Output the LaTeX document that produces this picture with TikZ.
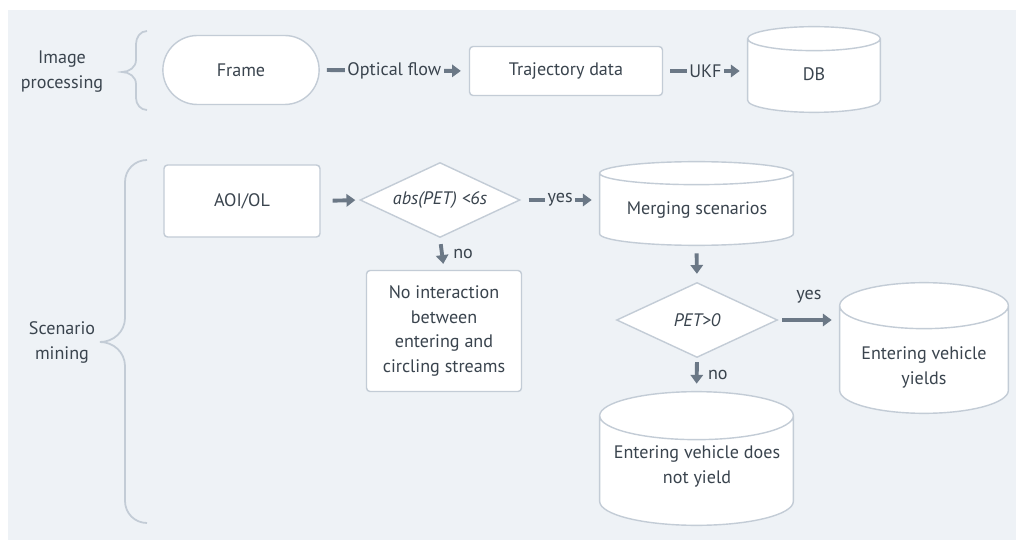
\documentclass[tikz,border=0pt]{standalone}
\usepackage{fontspec}
\setmainfont{PT Sans}
\usetikzlibrary{shapes.geometric,shapes.misc,arrows.meta,positioning,calc}
\definecolor{bgGray}{HTML}{EEF2F6}
\definecolor{lineGray}{HTML}{C3CCD6}
\definecolor{txtGray}{HTML}{3A444E}
\definecolor{arrGray}{HTML}{6B7886}
\pgfdeclarelayer{bgfill}
\pgfdeclarelayer{back}
\pgfsetlayers{bgfill,back,main}

% database drum round the named node, #2 = radius of the end ellipse
\newcommand{\drumpath}[2]{%
  \path[draw=lineGray, fill=white, line width=0.8pt]
    let \p1=(#1.north west), \p2=(#1.south east), \n1={(\x2-\x1)/2} in
    (\x1,{\y1-#2}) -- (\x1,{\y2+#2})
    arc[start angle=180, end angle=360, x radius=\n1, y radius=#2]
    -- (\x2,{\y1-#2})
    arc[start angle=0, end angle=180, x radius=\n1, y radius=#2] -- cycle
    (\x1,{\y1-#2})
    arc[start angle=180, end angle=360, x radius=\n1, y radius=#2];
}

\begin{document}
\begin{tikzpicture}[x=0.02cm, y=-0.02cm,
    every node/.style={font=\fontsize{10.3}{14.2}\selectfont, text=txtGray},
    box/.style={draw=lineGray, fill=white, line width=0.8pt, rounded corners=2pt,
                align=center, inner sep=2pt},
    dbase/.style={rectangle, inner sep=0pt},
    decision/.style={diamond, aspect=2.1, draw=lineGray, fill=white, line width=0.8pt,
                     inner sep=0pt, font=\fontsize{10.3}{14.2}\selectfont\itshape},
    flow/.style={-{Triangle[length=5pt,width=7pt]}, draw=arrGray, line width=2.2pt},
    lbl/.style={fill=bgGray, inner sep=1.5pt},
    curly/.style={draw=lineGray, line width=1pt},
  ]
  \useasboundingbox (0,0) rectangle (1016,540);
  \begin{pgfonlayer}{bgfill}
    \fill[bgGray] (8,10) rectangle (1016,540);
  \end{pgfonlayer}

  % Image processing row
  \node[align=center] (imgproc) at (62,72) {Image\\processing};
  \draw[curly] (147,31) to[out=180,in=90] (136,44) -- (136,60)
    to[out=-90,in=0] (122,72) to[out=0,in=90] (136,84) -- (136,98)
    to[out=-90,in=180] (147,110);

  \node[rounded rectangle, draw=lineGray, fill=white, line width=0.8pt,
        minimum width=3.36cm, minimum height=1.38cm] (frame) at (241,70) {Frame};
  \node[box, minimum width=3.86cm, minimum height=0.98cm] (traj) at (566,71)
    {Trajectory data};
  \node[dbase, minimum width=2.64cm, minimum height=1.7cm] (db) at (814,69.5) {};
  \node (dbtext) at (814,74) {DB};

  \draw[flow, shorten <=0.14cm, shorten >=0.16cm]
    (frame.east) -- node[lbl] {Optical flow} (traj.west);
  \draw[flow, shorten <=0.14cm, shorten >=0.16cm]
    (traj.east) -- node[lbl] {UKF} (traj.east -| db.west);

  % Scenario mining part
  \node[align=center] (scmining) at (62,342) {Scenario\\mining};
  \draw[curly] (147,160) to[out=180,in=90] (125,182) -- (125,318)
    to[out=-90,in=0] (100,342) to[out=0,in=90] (125,366) -- (125,501)
    to[out=-90,in=180] (147,523);

  \node[box, minimum width=3.12cm, minimum height=1.44cm] (aoi) at (242,201)
    {AOI/OL};
  \node[decision, minimum width=3.2cm, minimum height=1.5cm] (absd) at (440,200)
    {abs(PET) <6s};
  \node[dbase, minimum width=3.86cm, minimum height=1.66cm] (merge) at (696.5,203.5) {};
  \node (mergetext) at (697,210) {Merging scenarios};
  \node[box, minimum width=3.1cm, minimum height=2.42cm] (noint) at (444,331)
    {No interaction\\between\\entering and\\circling streams};
  \node[decision, minimum width=3.22cm, minimum height=1.5cm] (petd) at (697,320)
    {PET>0};
  \node[dbase, minimum width=3.36cm, minimum height=2.6cm] (yields) at (924,348) {};
  \node[align=center] (yieldstext) at (924,367) {Entering vehicle\\yields};
  \node[dbase, minimum width=3.86cm, minimum height=2.66cm] (noyield) at (696.5,458.5) {};
  \node[align=center] (noyieldtext) at (697,466) {Entering vehicle does\\not yield};

  \begin{pgfonlayer}{back}
    \drumpath{db}{0.24cm}
    \drumpath{merge}{0.23cm}
    \drumpath{yields}{0.46cm}
    \drumpath{noyield}{0.48cm}
  \end{pgfonlayer}

  \draw[flow, shorten <=0.24cm, shorten >=0.08cm] (aoi.east) -- (absd.west);
  \draw[flow, shorten <=0.16cm, shorten >=0.16cm]
    (absd.east) -- node[lbl] {yes} (absd.east -| merge.west);
  \draw[flow, shorten <=0.12cm, shorten >=0.12cm]
    (absd.south) -- node[right=2pt] {no} (noint.north);
  \draw[flow, shorten <=0.16cm, shorten >=0.16cm] (merge.south) -- (petd.north);
  \draw[flow, shorten <=0.08cm, shorten >=0.16cm]
    (petd.east) -- node[above=5pt] {yes} (petd.east -| yields.west);
  \draw[flow, shorten <=0.08cm, shorten >=0.16cm]
    (petd.south) -- node[right=2pt] {no} (noyield.north);
\end{tikzpicture}
\end{document}
